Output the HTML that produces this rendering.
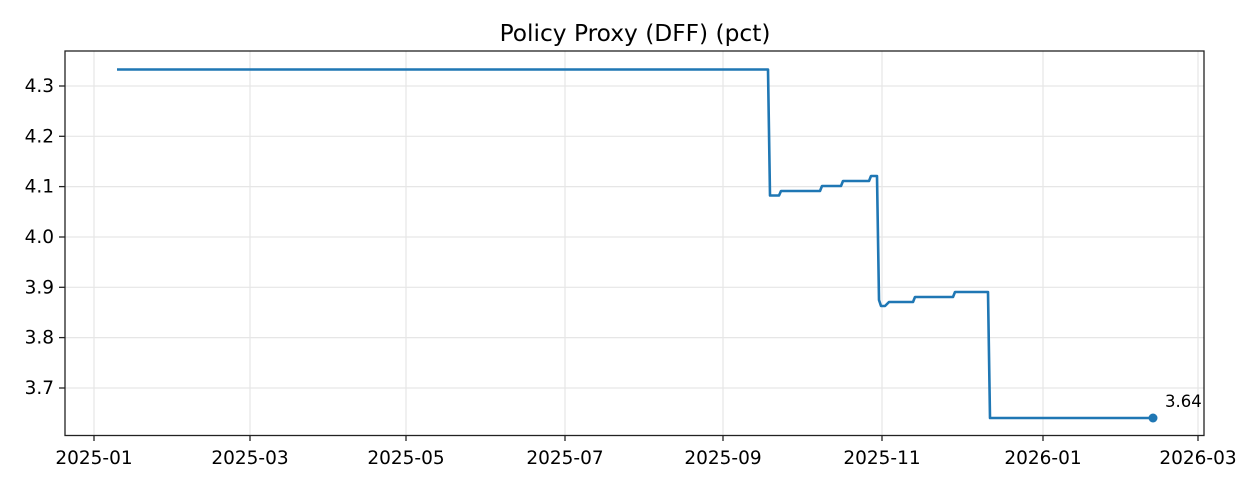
<!DOCTYPE html>
<html><head><meta charset="utf-8"><style>
html,body{margin:0;padding:0;background:#fff;}
svg text{font-family:"DejaVu Sans","Liberation Sans",sans-serif;fill:#000;}
</style></head><body>
<svg width="1260" height="490" xmlns="http://www.w3.org/2000/svg">
<rect width="1260" height="490" fill="#fff"/>
<text x="635" y="41" font-size="23.3" text-anchor="middle">Policy Proxy (DFF) (pct)</text>
<g stroke="#e6e6e6" stroke-width="1.2">
<line x1="94" y1="51" x2="94" y2="435"/><line x1="250" y1="51" x2="250" y2="435"/>
<line x1="406" y1="51" x2="406" y2="435"/><line x1="565" y1="51" x2="565" y2="435"/>
<line x1="723" y1="51" x2="723" y2="435"/><line x1="882" y1="51" x2="882" y2="435"/>
<line x1="1043" y1="51" x2="1043" y2="435"/><line x1="1198" y1="51" x2="1198" y2="435"/>
<line x1="65" y1="86" x2="1204" y2="86"/><line x1="65" y1="136.3" x2="1204" y2="136.3"/>
<line x1="65" y1="186.6" x2="1204" y2="186.6"/><line x1="65" y1="237" x2="1204" y2="237"/>
<line x1="65" y1="287.3" x2="1204" y2="287.3"/><line x1="65" y1="337.6" x2="1204" y2="337.6"/>
<line x1="65" y1="388" x2="1204" y2="388"/>
</g>
<polyline fill="none" stroke="#1f77b4" stroke-width="2.6" stroke-linejoin="round" points="117,69.5 768,69.5 770,195.5 779,195.5 781,191 820,191 822,186 841,186 843,181 869,181 871,176 877,176 879,300 881,306 885,306 889,302 913,302 915,297 953,297 955,292 988,292 990,418 1153,418"/>
<circle cx="1153" cy="418" r="4.5" fill="#1f77b4"/>
<text x="1165" y="407" font-size="16.5">3.64</text>
<rect x="65" y="51" width="1139" height="384.5" fill="none" stroke="#222" stroke-width="1.3"/>
<g stroke="#222" stroke-width="1.3">
<line x1="94" y1="435" x2="94" y2="441"/><line x1="250" y1="435" x2="250" y2="441"/>
<line x1="406" y1="435" x2="406" y2="441"/><line x1="565" y1="435" x2="565" y2="441"/>
<line x1="723" y1="435" x2="723" y2="441"/><line x1="882" y1="435" x2="882" y2="441"/>
<line x1="1043" y1="435" x2="1043" y2="441"/><line x1="1198" y1="435" x2="1198" y2="441"/>
<line x1="59" y1="86" x2="65" y2="86"/><line x1="59" y1="136.3" x2="65" y2="136.3"/>
<line x1="59" y1="186.6" x2="65" y2="186.6"/><line x1="59" y1="237" x2="65" y2="237"/>
<line x1="59" y1="287.3" x2="65" y2="287.3"/><line x1="59" y1="337.6" x2="65" y2="337.6"/>
<line x1="59" y1="388" x2="65" y2="388"/>
</g>
<g font-size="18.5" text-anchor="middle">
<text x="94" y="464">2025-01</text><text x="250" y="464">2025-03</text>
<text x="406" y="464">2025-05</text><text x="565" y="464">2025-07</text>
<text x="723" y="464">2025-09</text><text x="882" y="464">2025-11</text>
<text x="1043" y="464">2026-01</text><text x="1198" y="464">2026-03</text>
</g>
<g font-size="18.5" text-anchor="end">
<text x="54" y="92">4.3</text><text x="54" y="142.3">4.2</text>
<text x="54" y="192.6">4.1</text><text x="54" y="243">4.0</text>
<text x="54" y="293.3">3.9</text><text x="54" y="343.6">3.8</text>
<text x="54" y="394">3.7</text>
</g>
</svg>
</body></html>
